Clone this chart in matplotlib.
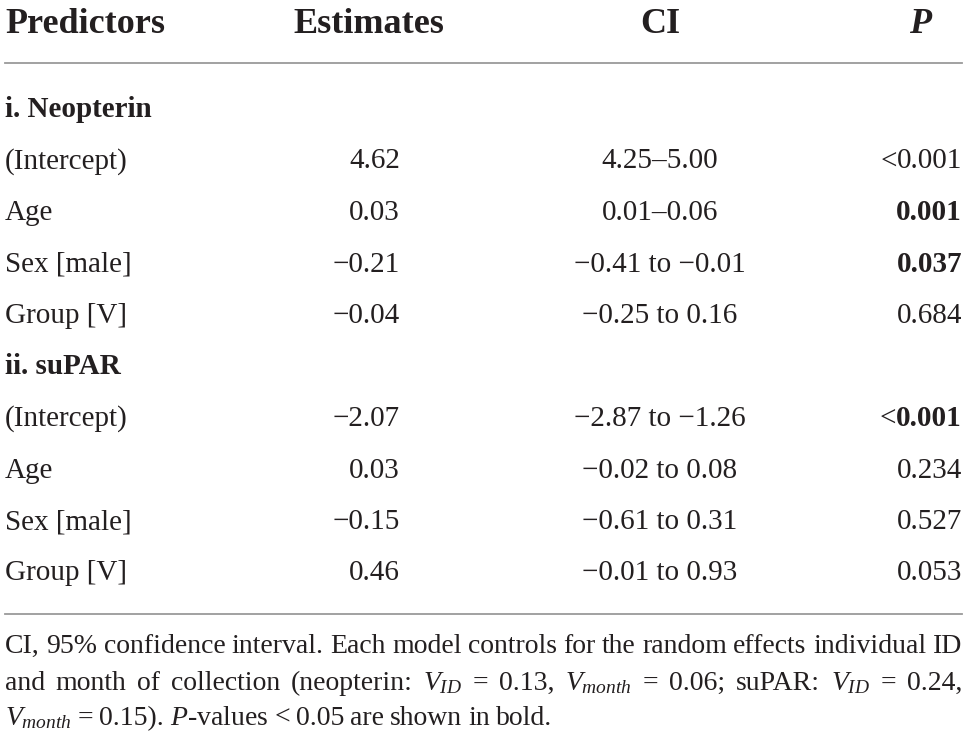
import matplotlib
matplotlib.use("Agg")
import matplotlib.pyplot as plt

plt.rcParams['font.family'] = ['Liberation Serif', 'DejaVu Serif']
plt.rcParams['mathtext.fontset'] = 'custom'
plt.rcParams['mathtext.rm'] = 'Liberation Serif'
plt.rcParams['mathtext.it'] = 'Liberation Serif:italic'
plt.rcParams['mathtext.bf'] = 'Liberation Serif:bold'

# table content
headers = ["Predictors", "Estimates", "CI", "P"]
sections = ["i. Neopterin", "ii. suPAR"]
predictors = ["(Intercept)", "Age", "Sex [male]", "Group [V]"]

neo_est = ["4.62", "0.03", "\u22120.21", "\u22120.04"]
neo_ci = ["4.25\u20135.00", "0.01\u20130.06", "\u22120.41 to \u22120.01", "\u22120.25 to 0.16"]
neo_p = ["<0.001", "0.001", "0.037", "0.684"]
neo_bold = [False, True, True, False]

supar_est = ["\u22122.07", "0.03", "\u22120.15", "0.46"]
supar_ci = ["\u22122.87 to \u22121.26", "\u22120.02 to 0.08", "\u22120.61 to 0.31", "\u22120.01 to 0.93"]
supar_p = ["<0.001", "0.234", "0.527", "0.053"]
supar_bold = [True, False, False, False]

footnote = [
    "CI, 95% confidence interval. Each model controls for the random effects individual ID",
    "and month of collection (neopterin: $V_{ID}$ = 0.13, $V_{month}$ = 0.06; suPAR: $V_{ID}$ = 0.24,",
    "$V_{month}$ = 0.15). $P$-values < 0.05 are shown in bold.",
]

TXT = '#231f20'
W, H = 968, 742

fig = plt.figure(figsize=(W / 100, H / 100), dpi=100)
ax = fig.add_axes([0, 0, 1, 1])
ax.set_xlim(0, W)
ax.set_ylim(H, 0)
ax.axis('off')
renderer = fig.canvas.get_renderer()

X_PRED, X_EST, X_CI, X_P = 5, 400, 660, 962
BODY = 21


def width(t):
    return t.get_window_extent(renderer).width


# header
ax.text(X_PRED, 33, headers[0], fontsize=26, fontweight='bold', color=TXT, va='baseline')
ax.text(369, 33, headers[1], fontsize=26, fontweight='bold', color=TXT, va='baseline', ha='center')
ax.text(X_CI, 33, headers[2], fontsize=26, fontweight='bold', color=TXT, va='baseline', ha='center')
ax.text(931, 33, headers[3], fontsize=26, fontweight='bold', fontstyle='italic',
        color=TXT, va='baseline', ha='right')
ax.plot([5, 962], [63, 63], color='#9a9a9a', lw=1.3)

blocks = [
    (sections[0], neo_est, neo_ci, neo_p, neo_bold),
    (sections[1], supar_est, supar_ci, supar_p, supar_bold),
]

y = 117
for name, est, ci, pv, bold in blocks:
    ax.text(X_PRED, y, name, fontsize=BODY, fontweight='bold', color=TXT, va='baseline')
    y += 51.5
    for i in range(len(predictors)):
        ax.text(X_PRED, y, predictors[i], fontsize=BODY, color=TXT, va='baseline')
        ax.text(X_EST, y, est[i], fontsize=BODY, color=TXT, va='baseline', ha='right')
        ax.text(X_CI, y, ci[i], fontsize=BODY, color=TXT, va='baseline', ha='center')
        p = pv[i]
        prefix = ""
        if p.startswith("<"):
            prefix, p = "<", p[1:]
        t = ax.text(X_P, y, p, fontsize=BODY, color=TXT, va='baseline', ha='right',
                    fontweight='bold' if bold[i] else 'normal')
        if prefix:
            ax.text(X_P - width(t), y, prefix, fontsize=BODY, color=TXT, va='baseline', ha='right')
        y += 51.5

ax.plot([5, 962], [614, 614], color='#9a9a9a', lw=1.3)

# footnote, first two lines justified
FN = 20
fy = [653, 690, 725]
for k, line in enumerate(footnote):
    words = line.split(" ")
    texts = [ax.text(0, fy[k], w, fontsize=FN, color=TXT, va='baseline') for w in words]
    widths = [width(t) for t in texts]
    if k < 2:
        gap = (962 - 5 - sum(widths)) / (len(words) - 1)
    else:
        gap = FN * 0.3
    x = 5
    for t, w in zip(texts, widths):
        t.set_x(x)
        x += w + gap

fig.savefig("out.png", dpi=100)
